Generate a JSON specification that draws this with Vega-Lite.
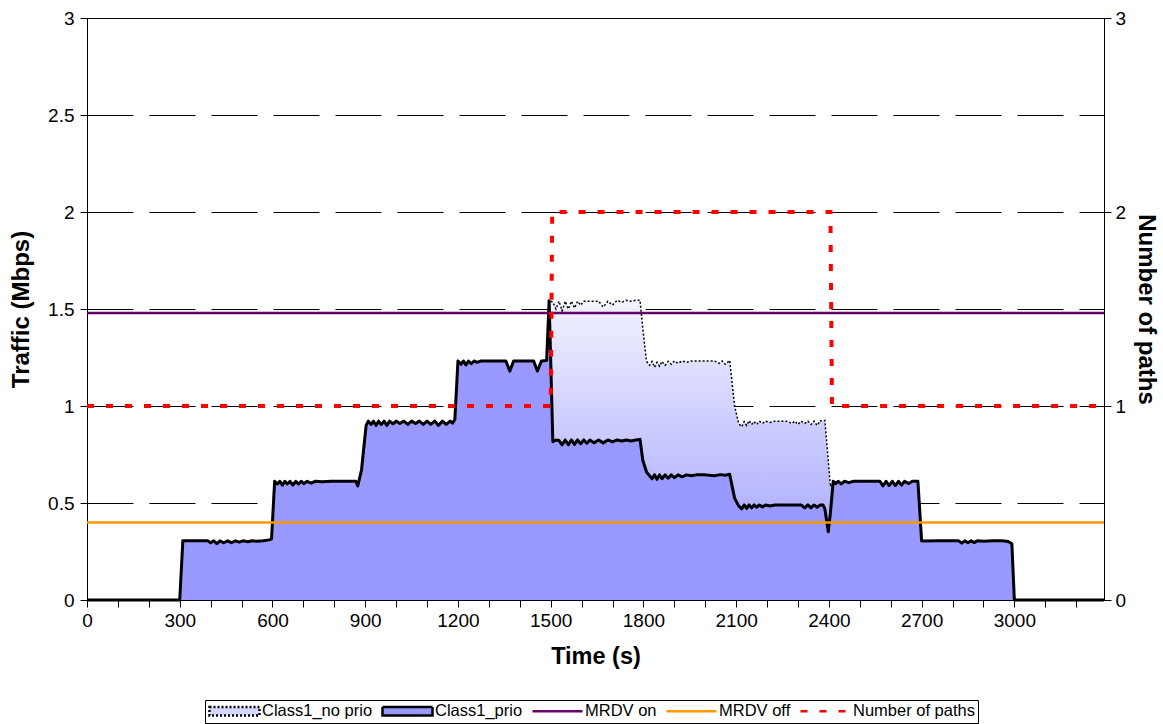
{
  "$schema": "https://vega.github.io/schema/vega-lite/v6.json",
  "width": 1017,
  "height": 582,
  "autosize": {"type": "none"},
  "padding": {"left": 87, "top": 18, "right": 59, "bottom": 124},
  "background": "white",
  "config": {
    "font": "Liberation Sans",
    "view": {"stroke": "black", "strokeWidth": 1},
    "axis": {"domainColor": "black", "tickColor": "black", "labelColor": "black", "titleColor": "black", "labelFont": "Liberation Sans", "titleFont": "Liberation Sans"},
    "axisX": {"labelOverlap": false, "labelFlush": false},
    "legend": {"labelFont": "Liberation Sans"}
  },
  "datasets": {
    "traffic": [
      {"t": 0, "prio": 0, "noprio": 0},
      {"t": 300, "prio": 0, "noprio": 0},
      {"t": 310, "prio": 0.305, "noprio": 0.305},
      {"t": 350, "prio": 0.305, "noprio": 0.305},
      {"t": 390, "prio": 0.305, "noprio": 0.305},
      {"t": 400, "prio": 0.295, "noprio": 0.295},
      {"t": 410, "prio": 0.305, "noprio": 0.305},
      {"t": 420, "prio": 0.29, "noprio": 0.29},
      {"t": 430, "prio": 0.305, "noprio": 0.305},
      {"t": 442, "prio": 0.295, "noprio": 0.295},
      {"t": 455, "prio": 0.305, "noprio": 0.305},
      {"t": 467, "prio": 0.295, "noprio": 0.295},
      {"t": 480, "prio": 0.305, "noprio": 0.305},
      {"t": 492, "prio": 0.298, "noprio": 0.298},
      {"t": 505, "prio": 0.305, "noprio": 0.305},
      {"t": 520, "prio": 0.3, "noprio": 0.3},
      {"t": 535, "prio": 0.305, "noprio": 0.305},
      {"t": 550, "prio": 0.303, "noprio": 0.303},
      {"t": 570, "prio": 0.305, "noprio": 0.305},
      {"t": 590, "prio": 0.31, "noprio": 0.31},
      {"t": 597, "prio": 0.315, "noprio": 0.315},
      {"t": 607, "prio": 0.612, "noprio": 0.612},
      {"t": 616, "prio": 0.598, "noprio": 0.598},
      {"t": 624, "prio": 0.612, "noprio": 0.612},
      {"t": 632, "prio": 0.592, "noprio": 0.592},
      {"t": 640, "prio": 0.612, "noprio": 0.612},
      {"t": 648, "prio": 0.598, "noprio": 0.598},
      {"t": 657, "prio": 0.612, "noprio": 0.612},
      {"t": 666, "prio": 0.592, "noprio": 0.592},
      {"t": 675, "prio": 0.612, "noprio": 0.612},
      {"t": 684, "prio": 0.598, "noprio": 0.598},
      {"t": 693, "prio": 0.612, "noprio": 0.612},
      {"t": 702, "prio": 0.6, "noprio": 0.6},
      {"t": 712, "prio": 0.612, "noprio": 0.612},
      {"t": 725, "prio": 0.603, "noprio": 0.603},
      {"t": 740, "prio": 0.612, "noprio": 0.612},
      {"t": 760, "prio": 0.61, "noprio": 0.61},
      {"t": 790, "prio": 0.612, "noprio": 0.612},
      {"t": 830, "prio": 0.612, "noprio": 0.612},
      {"t": 870, "prio": 0.612, "noprio": 0.612},
      {"t": 876, "prio": 0.588, "noprio": 0.588},
      {"t": 888, "prio": 0.67, "noprio": 0.67},
      {"t": 903, "prio": 0.9, "noprio": 0.9},
      {"t": 910, "prio": 0.922, "noprio": 0.922},
      {"t": 919, "prio": 0.905, "noprio": 0.905},
      {"t": 927, "prio": 0.922, "noprio": 0.922},
      {"t": 935, "prio": 0.9, "noprio": 0.9},
      {"t": 943, "prio": 0.922, "noprio": 0.922},
      {"t": 952, "prio": 0.905, "noprio": 0.905},
      {"t": 961, "prio": 0.922, "noprio": 0.922},
      {"t": 970, "prio": 0.9, "noprio": 0.9},
      {"t": 979, "prio": 0.922, "noprio": 0.922},
      {"t": 990, "prio": 0.908, "noprio": 0.908},
      {"t": 1000, "prio": 0.922, "noprio": 0.922},
      {"t": 1012, "prio": 0.91, "noprio": 0.91},
      {"t": 1025, "prio": 0.922, "noprio": 0.922},
      {"t": 1038, "prio": 0.905, "noprio": 0.905},
      {"t": 1050, "prio": 0.922, "noprio": 0.922},
      {"t": 1063, "prio": 0.91, "noprio": 0.91},
      {"t": 1075, "prio": 0.922, "noprio": 0.922},
      {"t": 1088, "prio": 0.905, "noprio": 0.905},
      {"t": 1100, "prio": 0.922, "noprio": 0.922},
      {"t": 1112, "prio": 0.905, "noprio": 0.905},
      {"t": 1125, "prio": 0.922, "noprio": 0.922},
      {"t": 1137, "prio": 0.9, "noprio": 0.9},
      {"t": 1150, "prio": 0.922, "noprio": 0.922},
      {"t": 1162, "prio": 0.905, "noprio": 0.905},
      {"t": 1175, "prio": 0.922, "noprio": 0.922},
      {"t": 1183, "prio": 0.912, "noprio": 0.912},
      {"t": 1190, "prio": 0.93, "noprio": 0.93},
      {"t": 1200, "prio": 1.232, "noprio": 1.232},
      {"t": 1210, "prio": 1.215, "noprio": 1.215},
      {"t": 1218, "prio": 1.232, "noprio": 1.232},
      {"t": 1226, "prio": 1.212, "noprio": 1.212},
      {"t": 1234, "prio": 1.232, "noprio": 1.232},
      {"t": 1243, "prio": 1.218, "noprio": 1.218},
      {"t": 1252, "prio": 1.232, "noprio": 1.232},
      {"t": 1262, "prio": 1.225, "noprio": 1.225},
      {"t": 1275, "prio": 1.232, "noprio": 1.232},
      {"t": 1300, "prio": 1.232, "noprio": 1.232},
      {"t": 1355, "prio": 1.232, "noprio": 1.232},
      {"t": 1368, "prio": 1.18, "noprio": 1.18},
      {"t": 1380, "prio": 1.232, "noprio": 1.232},
      {"t": 1445, "prio": 1.232, "noprio": 1.232},
      {"t": 1457, "prio": 1.18, "noprio": 1.18},
      {"t": 1470, "prio": 1.232, "noprio": 1.232},
      {"t": 1487, "prio": 1.235, "noprio": 1.235},
      {"t": 1495, "prio": 1.543, "noprio": 1.543},
      {"t": 1507, "prio": 0.816, "noprio": 1.535},
      {"t": 1517, "prio": 0.825, "noprio": 1.5},
      {"t": 1527, "prio": 0.822, "noprio": 1.54},
      {"t": 1537, "prio": 0.8, "noprio": 1.49},
      {"t": 1547, "prio": 0.825, "noprio": 1.54},
      {"t": 1557, "prio": 0.8, "noprio": 1.5},
      {"t": 1567, "prio": 0.825, "noprio": 1.54},
      {"t": 1577, "prio": 0.802, "noprio": 1.505},
      {"t": 1587, "prio": 0.825, "noprio": 1.54},
      {"t": 1597, "prio": 0.805, "noprio": 1.52},
      {"t": 1607, "prio": 0.825, "noprio": 1.54},
      {"t": 1617, "prio": 0.808, "noprio": 1.54},
      {"t": 1627, "prio": 0.825, "noprio": 1.54},
      {"t": 1640, "prio": 0.81, "noprio": 1.54},
      {"t": 1655, "prio": 0.825, "noprio": 1.54},
      {"t": 1670, "prio": 0.81, "noprio": 1.51},
      {"t": 1685, "prio": 0.825, "noprio": 1.54},
      {"t": 1700, "prio": 0.815, "noprio": 1.52},
      {"t": 1715, "prio": 0.825, "noprio": 1.545},
      {"t": 1730, "prio": 0.82, "noprio": 1.535},
      {"t": 1745, "prio": 0.825, "noprio": 1.545},
      {"t": 1760, "prio": 0.82, "noprio": 1.54},
      {"t": 1775, "prio": 0.825, "noprio": 1.545},
      {"t": 1789, "prio": 0.828, "noprio": 1.545},
      {"t": 1798, "prio": 0.72, "noprio": 1.4},
      {"t": 1810, "prio": 0.66, "noprio": 1.23},
      {"t": 1820, "prio": 0.64, "noprio": 1.21},
      {"t": 1828, "prio": 0.625, "noprio": 1.23},
      {"t": 1836, "prio": 0.645, "noprio": 1.2},
      {"t": 1844, "prio": 0.622, "noprio": 1.225},
      {"t": 1852, "prio": 0.645, "noprio": 1.205},
      {"t": 1860, "prio": 0.625, "noprio": 1.23},
      {"t": 1870, "prio": 0.645, "noprio": 1.21},
      {"t": 1880, "prio": 0.628, "noprio": 1.23},
      {"t": 1890, "prio": 0.645, "noprio": 1.215},
      {"t": 1900, "prio": 0.63, "noprio": 1.232},
      {"t": 1912, "prio": 0.645, "noprio": 1.22},
      {"t": 1925, "prio": 0.635, "noprio": 1.232},
      {"t": 1940, "prio": 0.645, "noprio": 1.225},
      {"t": 1955, "prio": 0.64, "noprio": 1.232},
      {"t": 1970, "prio": 0.645, "noprio": 1.232},
      {"t": 2000, "prio": 0.645, "noprio": 1.232},
      {"t": 2030, "prio": 0.64, "noprio": 1.232},
      {"t": 2045, "prio": 0.645, "noprio": 1.22},
      {"t": 2055, "prio": 0.645, "noprio": 1.232},
      {"t": 2065, "prio": 0.643, "noprio": 1.215},
      {"t": 2079, "prio": 0.648, "noprio": 1.235},
      {"t": 2095, "prio": 0.525, "noprio": 1.0},
      {"t": 2108, "prio": 0.485, "noprio": 0.91},
      {"t": 2118, "prio": 0.47, "noprio": 0.893},
      {"t": 2126, "prio": 0.49, "noprio": 0.92},
      {"t": 2134, "prio": 0.472, "noprio": 0.9},
      {"t": 2142, "prio": 0.49, "noprio": 0.925},
      {"t": 2150, "prio": 0.475, "noprio": 0.905},
      {"t": 2158, "prio": 0.49, "noprio": 0.92},
      {"t": 2166, "prio": 0.478, "noprio": 0.905},
      {"t": 2175, "prio": 0.49, "noprio": 0.922},
      {"t": 2185, "prio": 0.48, "noprio": 0.91},
      {"t": 2195, "prio": 0.49, "noprio": 0.922},
      {"t": 2210, "prio": 0.485, "noprio": 0.915},
      {"t": 2225, "prio": 0.49, "noprio": 0.922},
      {"t": 2265, "prio": 0.49, "noprio": 0.922},
      {"t": 2280, "prio": 0.49, "noprio": 0.91},
      {"t": 2290, "prio": 0.49, "noprio": 0.922},
      {"t": 2300, "prio": 0.49, "noprio": 0.905},
      {"t": 2310, "prio": 0.49, "noprio": 0.922},
      {"t": 2322, "prio": 0.475, "noprio": 0.91},
      {"t": 2332, "prio": 0.49, "noprio": 0.922},
      {"t": 2342, "prio": 0.475, "noprio": 0.905},
      {"t": 2352, "prio": 0.49, "noprio": 0.922},
      {"t": 2362, "prio": 0.478, "noprio": 0.9},
      {"t": 2372, "prio": 0.49, "noprio": 0.925},
      {"t": 2381, "prio": 0.49, "noprio": 0.92},
      {"t": 2387, "prio": 0.47, "noprio": 0.925},
      {"t": 2398, "prio": 0.352, "noprio": 0.72},
      {"t": 2405, "prio": 0.45, "noprio": 0.584},
      {"t": 2414, "prio": 0.612, "noprio": 0.612},
      {"t": 2422, "prio": 0.6, "noprio": 0.6},
      {"t": 2430, "prio": 0.612, "noprio": 0.612},
      {"t": 2440, "prio": 0.598, "noprio": 0.598},
      {"t": 2450, "prio": 0.612, "noprio": 0.612},
      {"t": 2465, "prio": 0.605, "noprio": 0.605},
      {"t": 2480, "prio": 0.612, "noprio": 0.612},
      {"t": 2520, "prio": 0.612, "noprio": 0.612},
      {"t": 2565, "prio": 0.612, "noprio": 0.612},
      {"t": 2575, "prio": 0.588, "noprio": 0.588},
      {"t": 2585, "prio": 0.612, "noprio": 0.612},
      {"t": 2595, "prio": 0.59, "noprio": 0.59},
      {"t": 2605, "prio": 0.612, "noprio": 0.612},
      {"t": 2615, "prio": 0.59, "noprio": 0.59},
      {"t": 2625, "prio": 0.612, "noprio": 0.612},
      {"t": 2635, "prio": 0.592, "noprio": 0.592},
      {"t": 2645, "prio": 0.612, "noprio": 0.612},
      {"t": 2658, "prio": 0.6, "noprio": 0.6},
      {"t": 2670, "prio": 0.612, "noprio": 0.612},
      {"t": 2688, "prio": 0.612, "noprio": 0.612},
      {"t": 2700, "prio": 0.304, "noprio": 0.304},
      {"t": 2760, "prio": 0.305, "noprio": 0.305},
      {"t": 2820, "prio": 0.305, "noprio": 0.305},
      {"t": 2830, "prio": 0.293, "noprio": 0.293},
      {"t": 2840, "prio": 0.305, "noprio": 0.305},
      {"t": 2850, "prio": 0.295, "noprio": 0.295},
      {"t": 2860, "prio": 0.305, "noprio": 0.305},
      {"t": 2870, "prio": 0.296, "noprio": 0.296},
      {"t": 2880, "prio": 0.305, "noprio": 0.305},
      {"t": 2900, "prio": 0.303, "noprio": 0.303},
      {"t": 2930, "prio": 0.305, "noprio": 0.305},
      {"t": 2960, "prio": 0.305, "noprio": 0.305},
      {"t": 2980, "prio": 0.302, "noprio": 0.302},
      {"t": 2992, "prio": 0.29, "noprio": 0.29},
      {"t": 3000, "prio": 0, "noprio": 0},
      {"t": 3290, "prio": 0, "noprio": 0}
    ],
    "paths": [
      {"t": 0, "n": 1},
      {"t": 1500, "n": 1},
      {"t": 1505, "n": 2},
      {"t": 2405, "n": 2},
      {"t": 2410, "n": 1},
      {"t": 3290, "n": 1}
    ],
    "mrdv": [
      {"series": "MRDV on", "v": 1.48},
      {"series": "MRDV off", "v": 0.4}
    ]
  },
  "encoding": {
    "x": {"field": "t", "type": "quantitative", "scale": {"domain": [0, 3290], "nice": false, "zero": false},
      "axis": {"values": [0,100,200,300,400,500,600,700,800,900,1000,1100,1200,1300,1400,1500,1600,1700,1800,1900,2000,2100,2200,2300,2400,2500,2600,2700,2800,2900,3000,3100,3200],
        "labelExpr": "datum.value % 300 === 0 ? datum.label : ''", "format": "d", "grid": false, "tickSize": 7, "labelFontSize": 19, "labelPadding": 4, "labelOverlap": false, "labelFlush": false,
        "title": "Time (s)", "titleFontSize": 23.5, "titleFontWeight": "bold", "titlePadding": 14}}
  },
  "layer": [
    {
      "layer": [
        {
          "data": {"name": "traffic"},
          "mark": {"type": "area", "fill": {"gradient": "linear", "x1": 0, "y1": 0, "x2": 0, "y2": 1, "stops": [{"offset": 0, "color": "#F2F2FF"}, {"offset": 1, "color": "#9999FF"}]}},
          "encoding": {
            "y": {"field": "noprio", "type": "quantitative", "scale": {"domain": [0, 3], "nice": false},
              "axis": {"values": [0, 0.5, 1, 1.5, 2, 2.5, 3], "format": "~g", "grid": true, "gridColor": "black", "gridWidth": 1, "gridDash": [46, 16], "tickSize": 7, "labelFontSize": 19, "labelPadding": 6,
                "title": "Traffic (Mbps)", "titleFontSize": 24, "titleFontWeight": "bold", "titlePadding": 14}}
          }
        },
        {
          "data": {"name": "traffic"},
          "mark": {"type": "line", "strokeWidth": 1.5, "strokeDash": [2, 2]},
          "encoding": {
            "y": {"field": "noprio", "type": "quantitative", "title": "Traffic (Mbps)"},
            "color": {"datum": "Class1_no prio", "type": "nominal"}
          }
        },
        {
          "data": {"name": "traffic"},
          "mark": {"type": "area", "fill": "#9999FF"},
          "encoding": {
            "y": {"field": "prio", "type": "quantitative", "title": "Traffic (Mbps)"}
          }
        },
        {
          "data": {"name": "traffic"},
          "mark": {"type": "line", "strokeWidth": 3, "strokeJoin": "round"},
          "encoding": {
            "y": {"field": "prio", "type": "quantitative", "title": "Traffic (Mbps)"},
            "color": {"datum": "Class1_prio", "type": "nominal"}
          }
        },
        {
          "data": {"name": "mrdv"},
          "mark": {"type": "rule", "strokeWidth": 2.5},
          "encoding": {
            "x": null,
            "y": {"field": "v", "type": "quantitative", "title": "Traffic (Mbps)"},
            "color": {"field": "series", "type": "nominal",
              "scale": {"domain": ["Class1_no prio", "Class1_prio", "MRDV on", "MRDV off", "Number of paths"], "range": ["black", "black", "#660066", "#FF9900", "#FF0000"]},
              "legend": {
                "title": null, "orient": "none", "legendX": 118, "legendY": 682, "direction": "horizontal", "columns": 5, "clipHeight": 16,
                "strokeColor": "black", "padding": 3, "columnPadding": 8, "labelOffset": 1, "labelFontSize": 16.5, "labelColor": "black", "symbolSize": 2500, "symbolStrokeWidth": 2.5, "labelLimit": 300,
                "encode": {
                  "symbols": {
                    "update": {
                      "shape": {"signal": "datum.value == 'Class1_no prio' || datum.value == 'Class1_prio' ? 'M-1,-0.17H1V0.17H-1Z' : 'stroke'"},
                      "fill": {"signal": "datum.value == 'Class1_prio' ? '#9999FF' : datum.value == 'Class1_no prio' ? '#D6D6FF' : 'transparent'"},
                      "stroke": {"signal": "datum.value == 'MRDV on' ? '#660066' : datum.value == 'MRDV off' ? '#FF9900' : datum.value == 'Number of paths' ? '#FF0000' : 'black'"},
                      "strokeDash": {"signal": "datum.value == 'Class1_no prio' ? [2, 2] : datum.value == 'Number of paths' ? [7, 12] : [1, 0]"},
                      "opacity": {"value": 1}
                    }
                  }
                }
              }
            }
          }
        }
      ]
    },
    {
      "data": {"name": "paths"},
      "mark": {"type": "line", "strokeWidth": 4, "strokeDash": [7, 12], "strokeCap": "butt"},
      "encoding": {
        "y": {"field": "n", "type": "quantitative", "scale": {"domain": [0, 3], "nice": false},
          "axis": {"orient": "right", "values": [0, 1, 2, 3], "grid": false, "tickSize": 7, "labelFontSize": 19, "labelPadding": 4,
            "title": "Number of paths", "titleFontSize": 24, "titleFontWeight": "bold", "titlePadding": 8}},
        "color": {"datum": "Number of paths", "type": "nominal"}
      }
    }
  ],
  "resolve": {"scale": {"y": "independent"}}
}
